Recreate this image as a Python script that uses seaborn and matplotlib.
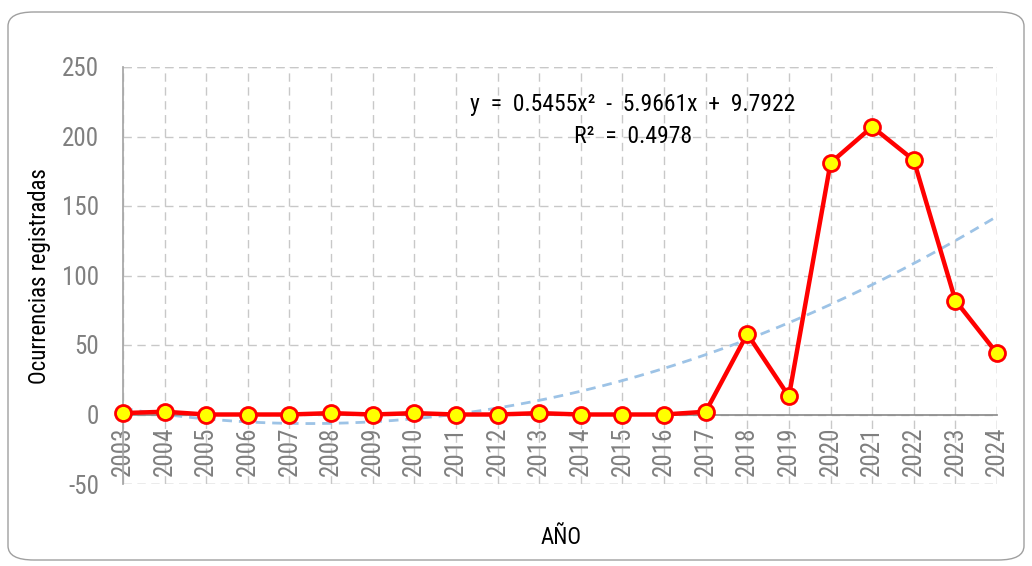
import matplotlib
matplotlib.use("Agg")
import matplotlib.pyplot as plt
import seaborn as sns
import numpy as np
import pandas as pd
from matplotlib import font_manager
from matplotlib.patches import FancyBboxPatch

years = ["2003", "2004", "2005", "2006", "2007", "2008", "2009", "2010", "2011", "2012", "2013",
         "2014", "2015", "2016", "2017", "2018", "2019", "2020", "2021", "2022", "2023", "2024"]
occurrences = [1, 2, 0, 0, 0, 1, 0, 1, 0, 0, 1, 0, 0, 0, 2, 58, 13, 181, 207, 183, 82, 44]
trend_coef = [0.5455, -5.9661, 9.7922]
equation_text = "y  =  0.5455x²  -  5.9661x  +  9.7922"
r2_text = "R²  =  0.4978"
y_ticks = [-50, 0, 50, 100, 150, 200, 250]

sns.set_theme(style="white")
plt.rcParams['axes.unicode_minus'] = False

# pick a condensed / narrow font if available
cands = []
for f in font_manager.fontManager.ttflist:
    st = str(f.stretch)
    if ("Condensed" in f.name or "Narrow" in f.name or st in ("condensed", "semi-condensed", "75", "87.5")
            or (st.isdigit() and int(st) < 100)):
        cands.append(f)
pref = ["Roboto", "Liberation", "Open Sans", "Noto Sans", "DejaVu"]
chosen = None
for p in pref:
    for f in cands:
        if f.name.startswith(p) and f.weight in (400, "normal", "regular") and f.style == "normal":
            chosen = f
            break
    if chosen:
        break
if chosen is None and cands:
    chosen = cands[0]
if chosen is not None:
    plt.rcParams['font.family'] = [chosen.name, "DejaVu Sans"]
    plt.rcParams['font.stretch'] = "condensed"
else:
    plt.rcParams['font.family'] = ["DejaVu Sans"]

fig = plt.figure(figsize=(10.32, 5.66), dpi=100)
ax = fig.add_axes([123/1032, 1-484/566, (997-123)/1032, (484-67)/566])

df = pd.DataFrame({"idx": np.arange(len(years)), "val": occurrences})

# trendline
xs = np.linspace(1, len(years), 300)
ys = np.polyval(trend_coef, xs)
ax.plot(xs - 1, ys, linestyle=(0, (3.5, 2.5)), color="#9DC3E6", lw=2, zorder=2)

sns.lineplot(data=df, x="idx", y="val", ax=ax, color="#FF0000", linewidth=3.2,
             marker="o", markersize=11.5, markerfacecolor="#FFFF00", markeredgecolor="#FF0000",
             markeredgewidth=2.0, zorder=3, clip_on=False)

for s in ["top", "right"]:
    ax.spines[s].set_visible(False)
ax.spines["bottom"].set_position(("data", 0))
ax.spines["bottom"].set_color("#8C8C8C")
ax.spines["left"].set_color("#A6A6A6")

ax.set_xlim(0, len(years) - 1)
ax.set_ylim(-50, 250)
ax.set_yticks(y_ticks)
ax.set_yticklabels([str(v) for v in y_ticks])
ax.set_xticks(np.arange(len(years)))
ax.set_xticklabels(years)
ax.tick_params(axis="y", labelsize=18, labelcolor="#7F7F7F", length=0, pad=17)
ax.tick_params(axis="x", direction="inout", length=14, width=1, color="#8C8C8C", pad=2,
               labelsize=18, labelcolor="#7F7F7F", labelrotation=90)

ax.grid(True, which="major", axis="both", linestyle=(0, (6, 4)), color="#C8C8C8", lw=1)
ax.axhline(-50, linestyle=(0, (6, 4)), color="#C8C8C8", lw=1, zorder=0)
ax.axhline(250, linestyle=(0, (6, 4)), color="#C8C8C8", lw=1, zorder=0)
ax.axvline(len(years) - 1, linestyle=(0, (6, 4)), color="#C8C8C8", lw=1, zorder=0)

ax.set_xlabel("")
ax.set_ylabel("")
fig.text(40/1032, 1-276/566, "Ocurrencias registradas", rotation=90, ha="center", va="center",
         fontsize=16.5, color="black")
fig.text(561/1032, 1-538/566, "AÑO", ha="center", va="center", fontsize=16.5, color="black")

fig.text(633/1032, 1-105/566, equation_text, ha="center", va="center", fontsize=17, color="black")
fig.text(633/1032, 1-137/566, r2_text, ha="center", va="center", fontsize=17, color="black")

border = FancyBboxPatch((8/1032, 1-560/566), (1016)/1032, (548)/566,
                        boxstyle="round,pad=0,rounding_size=0.025", transform=fig.transFigure,
                        fill=False, edgecolor="#A0A0A0", lw=1)
fig.patches.append(border)

fig.savefig("out.png", dpi=100)
